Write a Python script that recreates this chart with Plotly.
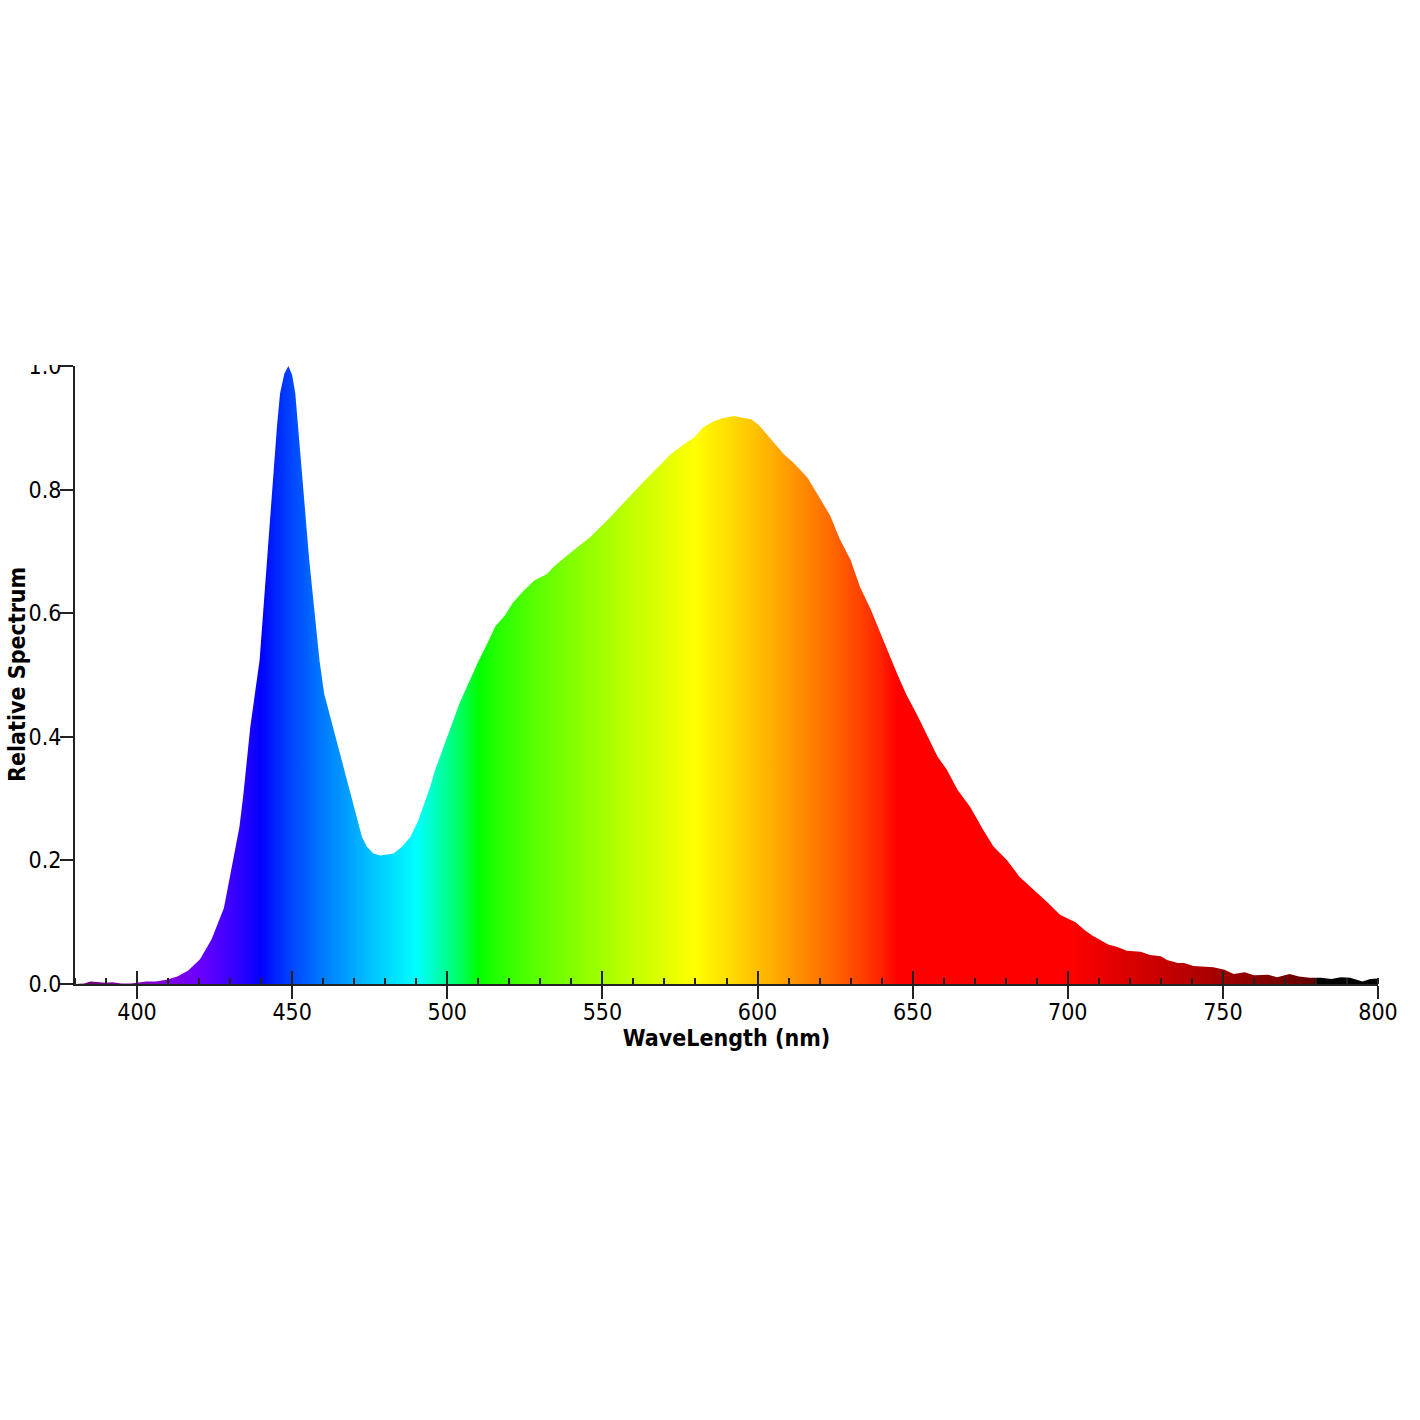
import plotly.graph_objects as go

# Wavelength samples (nm) and relative spectrum values
wavelength = [380, 383, 385, 387, 390, 392, 395, 398, 400, 403, 406, 409.5, 413, 416.5, 420.3,
              424, 428, 431, 433, 434.3, 436.5, 439.5, 441.8, 444.3, 445.1, 446.1, 447.5, 448.8,
              450, 451, 452, 452.8, 455.5, 458.8, 460.3, 461.7, 463.3, 464.6, 466, 468.7, 470.9,
              472.5, 474.1, 476.2, 478.4, 482.7, 485.4, 488.1, 490.7, 492.9, 494.5, 496, 498.5,
              501, 504, 507, 510, 513, 515.5, 518.5, 521, 524.5, 528,
              532, 534.5, 538.5, 541, 546, 551.5, 556, 559, 563.5, 567.5, 572, 576.5, 579.5,
              582.5, 586, 589, 592.5, 595.5, 598, 600.5, 604, 608.5, 611.5, 616, 620, 623.5,
              626.5, 630, 633, 636.5, 639.5, 642.5, 645, 648, 651.5, 654.5, 658, 661, 664.5,
              668.5, 673, 676, 680.5, 684.5, 689, 693.5, 697.5, 700, 702.5, 705.5, 708, 710.5,
              713, 716, 719, 723.5, 726.5, 730, 732, 735.5, 737.5, 740.5, 744, 747, 750.5,
              753.5, 757, 760, 764.5, 767.5, 771.5, 774.5, 778, 781.5, 785, 788, 791, 795,
              797.5, 800]
relative = [0.000, 0.001, 0.004, 0.003, 0.002, 0.003, 0.001, 0.001, 0.002, 0.004, 0.004, 0.007,
            0.012, 0.022, 0.040, 0.072, 0.123, 0.200, 0.254, 0.308, 0.416, 0.524, 0.686, 0.848,
            0.902, 0.956, 0.988, 1.000, 0.985, 0.956, 0.902, 0.848, 0.686, 0.524, 0.470, 0.443,
            0.416, 0.389, 0.362, 0.308, 0.265, 0.238, 0.222, 0.211, 0.208, 0.211, 0.222, 0.238,
            0.265, 0.297, 0.319, 0.345, 0.378,
            0.414, 0.455, 0.488, 0.522, 0.552, 0.579, 0.596, 0.616, 0.636, 0.653, 0.663, 0.676,
            0.693, 0.703, 0.723, 0.750, 0.773, 0.790, 0.814, 0.834, 0.857, 0.874, 0.884, 0.901,
            0.911, 0.916, 0.919, 0.916, 0.914, 0.904, 0.884, 0.857, 0.844, 0.820, 0.787, 0.757,
            0.720, 0.686, 0.643, 0.606, 0.569, 0.532, 0.502, 0.468, 0.435, 0.404, 0.368, 0.347,
            0.314, 0.287, 0.247, 0.223, 0.200, 0.173, 0.153, 0.132, 0.112, 0.106, 0.100, 0.087,
            0.078, 0.071, 0.064, 0.060, 0.054, 0.052, 0.047, 0.045, 0.039, 0.034, 0.034, 0.029,
            0.028, 0.027, 0.023, 0.016, 0.019, 0.014, 0.015, 0.011, 0.016, 0.012, 0.010, 0.010,
            0.008, 0.011, 0.010, 0.004, 0.008, 0.009]

x_ticks = [400, 450, 500, 550, 600, 650, 700, 750, 800]
y_ticks = [0.0, 0.2, 0.4, 0.6, 0.8, 1.0]
X_MIN, X_MAX = 380, 800


def wl_to_rgb(w, gamma=0.8):
    if w < 440:
        r, g, b = -(w - 440) / 60.0, 0.0, 1.0
    elif w < 490:
        r, g, b = 0.0, (w - 440) / 50.0, 1.0
    elif w < 510:
        r, g, b = 0.0, 1.0, -(w - 510) / 20.0
    elif w < 580:
        r, g, b = (w - 510) / 70.0, 1.0, 0.0
    elif w < 645:
        r, g, b = 1.0, -(w - 645) / 65.0, 0.0
    else:
        r, g, b = 1.0, 0.0, 0.0
    if w < 420:
        f = 0.3 + 0.7 * (w - 380) / 40.0
    elif w > 700:
        f = 0.3 + 0.7 * (780 - w) / 80.0
    else:
        f = 1.0
    def c(v):
        return 0 if v <= 0 else int(round(255 * (v * f) ** gamma))
    return "rgb(%d,%d,%d)" % (c(r), c(g), c(b))


colorscale = []
for w in range(380, 781, 5):
    colorscale.append([(w - X_MIN) / (X_MAX - X_MIN), wl_to_rgb(w)])
colorscale.append([(780.3 - X_MIN) / (X_MAX - X_MIN), "rgb(0,0,0)"])
colorscale.append([1.0, "rgb(0,0,0)"])

FONT = "DejaVu Sans Condensed, DejaVu Sans"
FS = 23
AXC = "#222222"
PLOT_W = 1420 - 75 - 42

fig = go.Figure()
fig.add_trace(go.Scatter(
    x=wavelength, y=relative, mode="lines", line=dict(width=0, color="rgba(0,0,0,0)"),
    fill="tozeroy",
    fillgradient=dict(type="horizontal", start=X_MIN, stop=X_MAX, colorscale=colorscale),
    hoverinfo="skip", showlegend=False,
))
# helper trace for the inward half of the major x ticks
fig.add_trace(go.Scatter(x=[X_MIN, X_MAX], y=[0, 0], xaxis="x2", mode="lines",
                         line=dict(width=0), hoverinfo="skip", showlegend=False))

fig.update_layout(
    width=1420, height=1420,
    margin=dict(l=75, r=42, t=366, b=436),
    paper_bgcolor="white", plot_bgcolor="white",
    font=dict(family=FONT, size=FS, color="black"),
    xaxis=dict(
        range=[X_MIN, X_MAX], tickvals=x_ticks, ticktext=[str(v) for v in x_ticks],
        ticks="outside", ticklen=13, tickwidth=2, tickcolor=AXC, automargin=False,
        minor=dict(dtick=10, tick0=0, ticks="inside", ticklen=6, tickwidth=2, tickcolor=AXC),
        showline=True, linecolor=AXC, linewidth=2, showgrid=False, zeroline=False,
        tickfont=dict(family=FONT, size=FS, color="black"), ticklabelstandoff=-7,
        title=dict(text="<b>WaveLength (nm)</b>", font=dict(family=FONT, size=FS, color="black"),
                   standoff=4),
    ),
    xaxis2=dict(
        range=[X_MIN, X_MAX], overlaying="x", side="bottom", anchor="y",
        tickvals=x_ticks, ticks="inside", ticklen=13, tickwidth=2, tickcolor=AXC,
        showticklabels=False, showline=False, showgrid=False, zeroline=False, automargin=False,
    ),
    yaxis=dict(
        range=[0, 1.0], tickvals=y_ticks, ticktext=["%.1f" % v for v in y_ticks],
        ticks="outside", ticklen=13, tickwidth=2, tickcolor=AXC, automargin=False,
        showline=True, linecolor=AXC, linewidth=2, showgrid=False, zeroline=False,
        tickfont=dict(family=FONT, size=FS, color="black"), ticklabelstandoff=-6,
    ),
    annotations=[dict(text="<b>Relative Spectrum</b>", xref="paper", yref="paper",
                      x=(17 - 75) / PLOT_W, y=0.5, xanchor="center", yanchor="middle",
                      textangle=-90, showarrow=False,
                      font=dict(family=FONT, size=FS, color="black"))],
    shapes=[dict(type="rect", xref="paper", yref="paper", layer="above",
                 x0=-75 / PLOT_W, x1=-14 / PLOT_W, y0=1 + 1.0 / 618, y1=1 + 40 / 618,
                 fillcolor="white", line=dict(width=0))],
)

fig.write_html("out.html")
